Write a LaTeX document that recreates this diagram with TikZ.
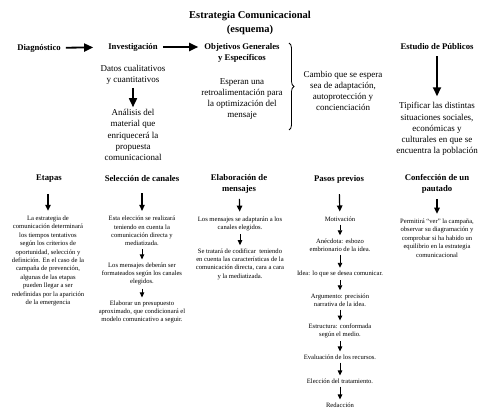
\documentclass[tikz,border=0pt]{standalone}
\usepackage{fontspec}
\setmainfont{Liberation Serif}
\usetikzlibrary{arrows.meta,decorations.pathreplacing}

\tikzset{
	head/.style={font=\fontsize{8.7}{11.5}\selectfont\bfseries, align=center, inner sep=1pt},
	toptext/.style={font=\fontsize{9}{11.2}\selectfont, align=center, inner sep=1pt},
	smalltext/.style={font=\fontsize{6.6}{8.4}\selectfont, align=center, inner sep=1pt},
	bigarrow/.style={line width=1.8pt, -{Triangle[length=9pt,width=8pt]}},
	midarrow/.style={line width=1.2pt, -{Triangle[length=6pt,width=5.5pt]}},
	tinyarrow/.style={line width=0.9pt, -{Triangle[length=5pt,width=4.5pt]}},
}

\begin{document}
\begin{tikzpicture}[x=1pt,y=-1pt]
	\useasboundingbox (0,0) rectangle (500,414);

	% Title
	\node[font=\fontsize{10.5}{14}\selectfont\bfseries, align=center] (title) at (250,23) {Estrategia Comunicacional\\(esquema)};

	% Top row
	\node[head] (diag) at (39,48) {Diagnóstico};
	\node[head] (invest) at (133,47) {Investigación};
	\node[head] (objet) at (242,53) {Objetivos Generales\\y Específicos};
	\node[head] (estudio) at (437,47) {Estudio de Públicos};

	\draw[bigarrow, shorten <=4pt, shorten >=14pt] (diag) -- (invest);
	\draw[bigarrow, shorten <=4pt, shorten >=5pt] (invest.east) -- (invest.east -| objet.west);

	%Investigacion column
	\node[toptext] (datos) at (133,75) {Datos cualitativos\\y cuantitativos};
	\node[toptext] (analisis) at (133,135) {Análisis del\\material que\\enriquecerá la\\propuesta\\comunicacional};
	\draw[bigarrow, line width=1.6pt, shorten <=2pt, shorten >=1pt] (datos) -- (analisis);

	%Objetivos column
	\node[toptext] (esperan) at (242,99) {Esperan una\\retroalimentación para\\la optimización del\\mensaje};
	\draw[decorate, decoration={brace, amplitude=5pt}, line width=0.8pt] (289,43) -- (289,130) coordinate[midway] (llave);
	\node[toptext] (cambio) at (343,91) {Cambio que se espera\\sea de adaptación,\\autoprotección y\\concienciación};

	%Publicos column
	\node[toptext] (tipificar) at (437,129) {Tipificar las distintas\\situaciones sociales,\\económicas y\\culturales en que se\\encuentra la población};
	\draw[bigarrow, shorten <=5pt, shorten >=5pt] (estudio) -- (tipificar);

	% Bottom row headings
	\node[head] (etapas) at (49,179) {Etapas};
	\node[head] (seleccion) at (142,179) {Selección de canales};
	\node[head] (elabora) at (239,184) {Elaboración de\\mensajes};
	\node[head] (pasos) at (339,179) {Pasos previos};
	\node[head] (confec) at (437,184) {Confección de un\\pautado};

	%Etapas
	\node[smalltext] (etapasA) at (48,261) {La estrategia de\\comunicación determinará\\los tiempos tentativos\\según los criterios de\\oportunidad, selección y\\definición. En el caso de la\\campaña de prevención,\\algunas de las etapas\\pueden llegar a ser\\redefinidas por la aparición\\de la emergencia};
	\draw[midarrow, shorten <=10pt, shorten >=4pt] (etapas.south -| etapasA) -- (etapasA);

	%Seleccion de canales
	\node[smalltext] (selA) at (142,231) {Esta elección se realizará\\teniendo en cuenta la\\comunicación directa y\\mediatizada.};
	\node[smalltext] (selB) at (142,274) {Los mensajes deberán ser\\formateados según los canales\\elegidos.};
	\node[smalltext] (selC) at (142,312) {Elaborar un presupuesto\\aproximado, que condicionará el\\modelo comunicativo a seguir.};
	\draw[midarrow, shorten <=10pt, shorten >=4pt] (seleccion) -- (selA);
	\draw[tinyarrow, shorten <=2pt, shorten >=2pt] (selA) -- (selB);
	\draw[tinyarrow, shorten <=2pt, shorten >=2pt] (selB) -- (selC);

	%Elaboracion de mensajes
	\node[smalltext] (elabA) at (240,224) {Los mensajes se adaptarán a los\\canales elegidos.};
	\node[smalltext] (elabB) at (240,264) {Se tratará de codificar\ \ teniendo\\en cuenta las características de la\\comunicación directa, cara a cara\\y la mediatizada.};
	\draw[midarrow, shorten <=4pt, shorten >=4pt] (elabora) -- (elabA);
	\draw[tinyarrow, shorten <=2pt, shorten >=2pt] (elabA) -- (elabB);

	%Pasos previos
	\node[smalltext] (pasoA) at (340,219) {Motivación};
	\node[smalltext] (pasoB) at (340,245) {Anécdota: esbozo\\embrionario de la idea.};
	\node[smalltext] (pasoC) at (340,274) {Idea: lo que se desea comunicar.};
	\node[smalltext] (pasoD) at (340,300) {Argumento: precisión\\narrativa de la idea.};
	\node[smalltext] (pasoE) at (340,331) {Estructura: conformada\\según el medio.};
	\node[smalltext] (pasoF) at (340,357) {Evaluación de los recursos.};
	\node[smalltext] (pasoG) at (340,381) {Elección del tratamiento.};
	\node[smalltext] (pasoH) at (340,405) {Redacción};
	\draw[midarrow, shorten <=10pt, shorten >=4pt] (pasos) -- (pasoA);
	\foreach \a/\b in {pasoA/pasoB, pasoB/pasoC, pasoC/pasoD, pasoD/pasoE, pasoE/pasoF, pasoF/pasoG, pasoG/pasoH}
		\draw[tinyarrow, shorten <=2pt, shorten >=2pt] (\a) -- (\b);

	%Confeccion de un pautado
	\node[smalltext] (confA) at (437,238) {Permitirá “ver” la campaña,\\observar su diagramación y\\comprobar si ha habido un\\equilibrio en la estrategia\\comunicacional};
	\draw[midarrow, shorten <=4pt, shorten >=4pt] (confec) -- (confA);

\end{tikzpicture}
\end{document}
